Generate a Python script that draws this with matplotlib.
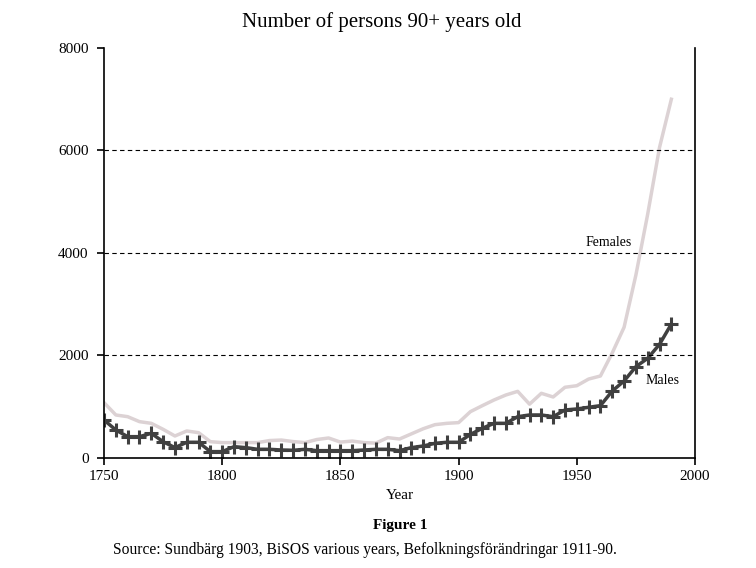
import numpy as np
import matplotlib.pyplot as plt

plt.rcParams['font.family'] = ['Liberation Serif', 'DejaVu Serif']

# data
years = list(range(1750, 1995, 5))
males = [741, 546, 416, 416, 481, 318, 202, 306, 306, 124,
         124, 221, 202, 169, 169, 156, 150, 169, 143, 143,
         143, 143, 156, 169, 169, 143, 202, 234, 286, 306,
         306, 460, 579, 676, 676, 806, 839, 839, 806, 937,
         956, 989, 1021, 1307, 1502, 1782, 1945, 2218, 2614]
females = [1080, 839, 806, 709, 676, 559, 429, 527, 494, 318,
           300, 300, 300, 300, 340, 350, 320, 300, 360, 390,
           310, 330, 300, 290, 397, 370, 470, 570, 650, 676,
           690, 904, 1020, 1132, 1229, 1300, 1050, 1262, 1190, 1380,
           1410, 1540, 1600, 2050, 2550, 3570, 4760, 6060, 7000]

fig = plt.figure(figsize=(7.56, 5.68), dpi=100)
ax = fig.add_axes([0.1376, 0.1937, 0.7817, 0.7218])

ax.plot(years, females, color='#dcd2d4', lw=2.5)
ax.plot(years, males, color='#404040', lw=2.5, marker='+', ms=10, mew=2.2)

ax.set_xlim(1750, 2000)
ax.set_ylim(0, 8000)
ax.set_xticks(range(1750, 2001, 50))
ax.set_yticks(range(0, 8001, 2000))
for v in [2000, 4000, 6000]:
    ax.axhline(v, color='black', lw=0.8, ls=(0, (4, 3)))

ax.spines['top'].set_visible(False)
for s in ['left', 'right', 'bottom']:
    ax.spines[s].set_linewidth(1.2)
ax.tick_params(direction='out', length=5, width=1.2, labelsize=11)
ax.tick_params(axis='x', pad=4)
ax.tick_params(axis='y', pad=6)

ax.text(1953.5, 4200, 'Females', fontsize=10, va='center')
ax.text(1979, 1520, 'Males', fontsize=10, va='center')

ax.set_xlabel('Year', fontsize=11, labelpad=4)
fig.text(0.505, 0.962, 'Number of persons 90+ years old', ha='center', va='center', fontsize=15)

fig.text(0.529, 0.068, 'Figure 1', ha='center', fontsize=11, fontweight='bold')
fig.text(0.149, 0.024, 'Source: Sundbärg 1903, BiSOS various years, Befolkningsförändringar 1911-90.',
         ha='left', fontsize=11.2)

fig.savefig('out.png', dpi=100)
